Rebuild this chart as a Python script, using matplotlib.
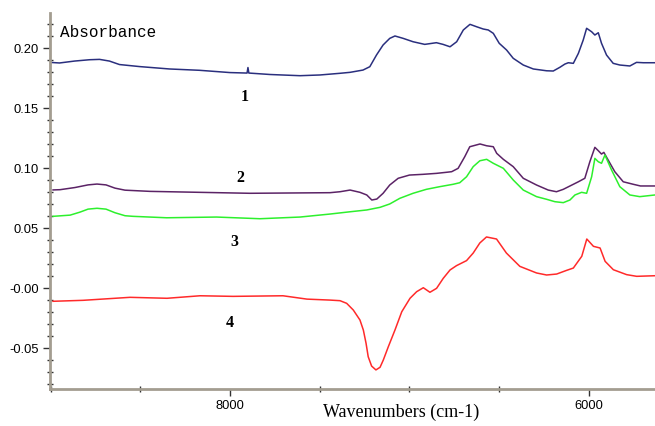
import matplotlib
matplotlib.use("Agg")
import matplotlib.pyplot as plt
from matplotlib.ticker import FixedLocator, FixedFormatter, MultipleLocator

# NIR absorbance spectra, wavenumber (cm-1) vs absorbance
wn1 = [9003, 8950, 8866, 8783, 8727, 8672, 8616, 8504, 8337, 8170, 8000, 7905, 7900, 7895,
       7777, 7610, 7499, 7387, 7331, 7259, 7221, 7184, 7147, 7110, 7081, 7035, 6980, 6915,
       6850, 6813, 6774, 6737, 6700, 6663, 6626, 6589, 6561, 6533, 6500, 6459, 6422, 6366,
       6310, 6236, 6199, 6162, 6134, 6115, 6087, 6059, 6032, 6013, 5985, 5967, 5948, 5930,
       5902, 5865, 5828, 5772, 5735, 5697, 5632]
ab1 = [0.1883, 0.1878, 0.1894, 0.1905, 0.1908, 0.1894, 0.1865, 0.1848, 0.1828, 0.1817,
       0.1798, 0.1794, 0.1840, 0.1794, 0.1782, 0.1772, 0.1778, 0.1792, 0.1800, 0.1819,
       0.1847, 0.1944, 0.2028, 0.2083, 0.2103, 0.2083, 0.2055, 0.2033, 0.2047, 0.2033,
       0.2013, 0.2055, 0.2153, 0.2200, 0.2180, 0.2161, 0.2153, 0.2125, 0.2042, 0.1986,
       0.1917, 0.1861, 0.1828, 0.1813, 0.1811, 0.1842, 0.1869, 0.1880, 0.1875, 0.1958,
       0.2069, 0.2167, 0.2138, 0.2111, 0.2130, 0.2042, 0.1944, 0.1875, 0.1861, 0.1853,
       0.1883, 0.1880, 0.1880]

wn2 = [8986, 8947, 8864, 8791, 8741, 8691, 8641, 8585, 8446, 8170, 7889, 7443, 7387, 7331,
       7276, 7238, 7210, 7182, 7147, 7110, 7063, 7000, 6925, 6850, 6794, 6765, 6729, 6692,
       6664, 6607, 6570, 6533, 6514, 6477, 6422, 6366, 6292, 6227, 6181, 6143, 6087, 6059,
       6023, 5995, 5967, 5948, 5930, 5917, 5893, 5856, 5809, 5753, 5713, 5632]
ab2 = [0.0820, 0.0822, 0.0840, 0.0862, 0.0869, 0.0862, 0.0835, 0.0818, 0.0808, 0.0800,
       0.0792, 0.0797, 0.0805, 0.0819, 0.0800, 0.0778, 0.0736, 0.0744, 0.0792, 0.0861,
       0.0917, 0.0944, 0.0950, 0.0958, 0.0967, 0.0972, 0.1000, 0.1097, 0.1180, 0.1203,
       0.1188, 0.1180, 0.1125, 0.1075, 0.1014, 0.0917, 0.0861, 0.0819, 0.0805, 0.0825,
       0.0867, 0.0888, 0.0917, 0.1055, 0.1175, 0.1147, 0.1119, 0.1133, 0.1069, 0.0972,
       0.0888, 0.0867, 0.0853, 0.0853]

wn3 = [8986, 8891, 8836, 8791, 8741, 8691, 8641, 8585, 8541, 8353, 8075, 7833, 7610, 7443,
       7331, 7238, 7164, 7110, 7054, 6980, 6906, 6832, 6757, 6720, 6682, 6645, 6608, 6570,
       6533, 6477, 6422, 6366, 6292, 6236, 6190, 6143, 6106, 6078, 6041, 6013, 5985, 5967,
       5948, 5930, 5911, 5874, 5828, 5772, 5717, 5632]
ab3 = [0.0600, 0.0610, 0.0635, 0.0660, 0.0667, 0.0660, 0.0630, 0.0605, 0.0600, 0.0588,
       0.0594, 0.0580, 0.0594, 0.0619, 0.0638, 0.0653, 0.0675, 0.0703, 0.0750, 0.0792,
       0.0825, 0.0847, 0.0867, 0.0880, 0.0930, 0.1014, 0.1063, 0.1075, 0.1042, 0.1000,
       0.0903, 0.0819, 0.0764, 0.0742, 0.0722, 0.0714, 0.0736, 0.0778, 0.0800, 0.0792,
       0.0930, 0.1083, 0.1055, 0.1042, 0.1111, 0.0986, 0.0847, 0.0778, 0.0764, 0.0778]

wn4 = [8986, 8819, 8557, 8351, 8167, 7983, 7705, 7571, 7443, 7387, 7350, 7313, 7276, 7257,
       7242, 7230, 7211, 7187, 7164, 7146, 7118, 7081, 7043, 6997, 6960, 6923, 6886, 6849,
       6812, 6774, 6738, 6682, 6645, 6608, 6571, 6515, 6460, 6385, 6292, 6236, 6180, 6124,
       6087, 6040, 6012, 5975, 5938, 5910, 5864, 5790, 5734, 5632]
ab4 = [-0.0108, -0.0100, -0.0075, -0.0083, -0.0062, -0.0067, -0.0062, -0.0090, -0.0098,
       -0.0103, -0.0125, -0.0181, -0.0264, -0.0348, -0.0458, -0.0570, -0.0648, -0.0680,
       -0.0658, -0.0598, -0.0487, -0.0348, -0.0195, -0.0083, -0.0028, 0.0005, -0.0033,
       0.0000, 0.0083, 0.0153, 0.0189, 0.0231, 0.0294, 0.0378, 0.0428, 0.0411, 0.0294,
       0.0183, 0.0128, 0.0111, 0.0119, 0.0150, 0.0169, 0.0267, 0.0411, 0.0350, 0.0336,
       0.0225, 0.0155, 0.0114, 0.0100, 0.0105]

series = [(wn1, ab1, "#2a2f7e"), (wn2, ab2, "#5b2366"),
          (wn3, ab3, "#2df02d"), (wn4, ab4, "#ff2a2a")]

curve_labels = ["1", "2", "3", "4"]
label_x = [7916, 7944, 7978, 8000]
label_y = [0.1594, 0.0919, 0.0389, -0.0290]

ytick_vals = [-0.05, 0.0, 0.05, 0.10, 0.15, 0.20]
ytick_text = ["-0.05", "-0.00", "0.05", "0.10", "0.15", "0.20"]
xtick_vals = [8000, 6000]
xtick_text = ["8000", "6000"]

fig = plt.figure(figsize=(6.55, 4.26), dpi=100)
ax = fig.add_axes([50 / 655, 1 - 389 / 426, 605 / 655, (389 - 12.7) / 426])

for wn, ab, col in series:
    ax.plot(wn, ab, color=col, lw=1.1, solid_joinstyle="round")

ax.set_xlim(9003, 5632)
ax.set_ylim(-0.0839, 0.2297)

spine_col = "#a39d90"
for side in ("top", "right"):
    ax.spines[side].set_visible(False)
for side in ("left", "bottom"):
    ax.spines[side].set_color(spine_col)
    ax.spines[side].set_linewidth(2.0)

ax.yaxis.set_major_locator(FixedLocator(ytick_vals))
ax.yaxis.set_major_formatter(FixedFormatter(ytick_text))
ax.yaxis.set_minor_locator(MultipleLocator(0.01))
ax.xaxis.set_major_locator(FixedLocator(xtick_vals))
ax.xaxis.set_major_formatter(FixedFormatter(xtick_text))
ax.xaxis.set_minor_locator(MultipleLocator(500))

ax.tick_params(which="major", direction="out", length=5, width=1, color="#333333",
               labelsize=9.3, pad=3)
ax.tick_params(which="minor", direction="inout", length=4, width=1, color="#333333")
for lab in ax.get_xticklabels() + ax.get_yticklabels():
    lab.set_family("Liberation Sans")

for txt, lx, ly in zip(curve_labels, label_x, label_y):
    ax.text(lx, ly, txt, ha="center", va="center", fontsize=11.5,
            fontweight="bold", family="Liberation Serif")

ax.text(10 / 605, 0.9487, "Absorbance", transform=ax.transAxes, ha="left",
        va="center", fontsize=11.5, family="Liberation Mono")

fig.text(401 / 655, 1 - 412 / 426, "Wavenumbers (cm-1)", ha="center", va="center",
         fontsize=13, family="Liberation Serif")

fig.savefig("out.png", dpi=100)
